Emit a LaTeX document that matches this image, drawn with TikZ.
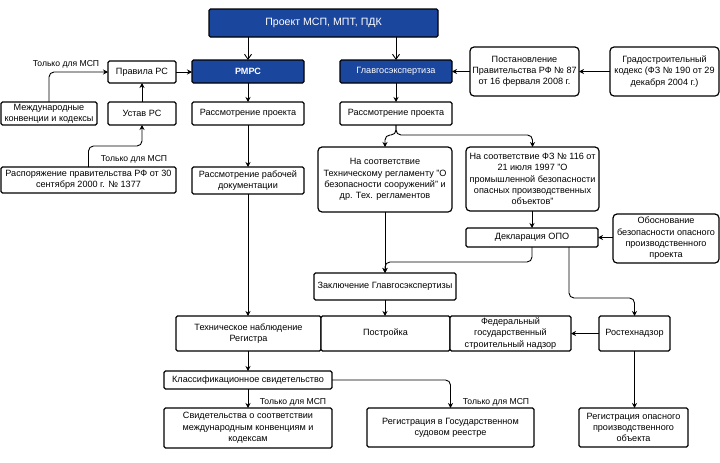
\documentclass[tikz,border=0pt]{standalone}
\usepackage{fontspec}
\setmainfont{Liberation Sans}
\usetikzlibrary{arrows.meta}
\definecolor{blueC}{RGB}{27,70,158}
\begin{document}
\begin{tikzpicture}[x=1pt,y=-1pt,
  bx/.style={draw=black, line width=1.2pt, fill=white, rounded corners=1.5pt,
    inner sep=0pt, outer sep=0pt, align=center,
    font=\fontsize{9.1}{11.3}\selectfont},
  rbx/.style={bx, rounded corners=4pt},
  bluebx/.style={bx, fill=blueC, text=white},
  arr/.style={draw=black, line width=0.9pt, rounded corners=5pt, -{Stealth[length=5pt,width=5pt]}},
  oarr/.style={draw=black, line width=0.9pt, -{Straight Barb[length=5pt,width=7pt]}},
  lbl/.style={font=\fontsize{8.6}{10}\selectfont, inner sep=0pt}
]
\useasboundingbox (0,0) rectangle (720,463);
\fill[white] (0,0) rectangle (720,463);

% blue boxes
\node[bluebx, minimum width=229, minimum height=28, font=\fontsize{10.6}{12}\selectfont] (top) at (323.5,23) {Проект МСП, МПТ, ПДК};
\node[bluebx, minimum width=112, minimum height=23] (rmrs) at (248,71.5) {\textbf{РМРС}};
\node[bluebx, minimum width=112, minimum height=23] (glav) at (396,71.5) {Главгосэкспертиза};

% left column
\node[bx, minimum width=68, minimum height=22] (pravila) at (142,72) {Правила РС};
\node[bx, minimum width=96, minimum height=23] (mezh) at (49,113.5) {Международные\\конвенции и кодексы};
\node[bx, minimum width=68, minimum height=23] (ustav) at (142,113.5) {Устав РС};
\node[bx, minimum width=175, minimum height=26] (raspor) at (88.5,180) {Распоряжение правительства РФ от 30\\сентября 2000 г. № 1377};
\node[bx, minimum width=112, minimum height=23] (rasL) at (248,113.5) {Рассмотрение проекта};
\node[bx, minimum width=112, minimum height=27] (rabdoc) at (248,180.5) {Рассмотрение рабочей\\документации};

% right column
\node[bx, minimum width=112, minimum height=23] (rasR) at (396,113.5) {Рассмотрение проекта};
\node[rbx, minimum width=109, minimum height=49] (post) at (524.5,71.5) {Постановление\\Правительства РФ № 87\\от 16 ферваля 2008 г.};
\node[rbx, minimum width=109, minimum height=49] (grad) at (664.5,71.5) {Градостроительный\\кодекс (ФЗ № 190 от 29\\декабря 2004 г.)};
\node[rbx, minimum width=134, minimum height=65] (teh) at (385,179.5) {На соответствие\\Техническому регламенту "О\\безопасности сооружений" и\\др. Тех. регламентов};
\node[rbx, minimum width=133, minimum height=64] (fz) at (532.5,179) {На соответствие ФЗ № 116 от\\21 июля 1997 "О\\промышленной безопасности\\опасных производственных\\объектов"};
\node[bx, minimum width=132, minimum height=19] (dekl) at (532,237.5) {Декларация ОПО};
\node[rbx, minimum width=106, minimum height=49] (obosn) at (666,238.5) {Обоснование\\безопасности опасного\\производственного\\проекта};
\node[bx, minimum width=142, minimum height=27] (zakl) at (385,286.5) {Заключение Главгосэкспертизы};

% bottom rows
\node[bx, minimum width=145, minimum height=35] (tehnab) at (248.5,333.5) {Техническое наблюдение\\Регистра};
\node[bx, minimum width=129, minimum height=35] (postr) at (385.5,333.5) {Постройка};
\node[bx, minimum width=121, minimum height=35] (fgsn) at (510.5,333.5) {Федеральный\\государственный\\строительный надзор};
\node[bx, minimum width=71, minimum height=35] (rostekh) at (634.5,333.5) {Ростехнадзор};
\node[bx, minimum width=168, minimum height=18] (klass) at (248,380) {Классификационное свидетельство};
\node[bx, minimum width=168, minimum height=40] (svid) at (248,428) {Свидетельства о соответствии\\международным конвенциям и\\кодексам};
\node[bx, minimum width=167, minimum height=39] (regsud) at (450.5,427.5) {Регистрация в Государственном\\судовом реестре};
\node[bx, minimum width=109, minimum height=39] (regopo) at (633.5,427.5) {Регистрация опасного\\производственного\\объекта};

% waypoints
\coordinate (c1) at (142,146);
\coordinate (c2) at (396,135);
\coordinate (m1) at (385,262);
\coordinate (m2) at (600,298);

% connectors
\draw[oarr] (rmrs.north |- top.south) -- (rmrs.north);
\draw[oarr] (glav.north |- top.south) -- (glav.north);
\draw[arr] (pravila.east) -- (rmrs.west |- pravila.east);
\draw[arr] (mezh.north) |- (pravila.west);
\node[lbl] (l1) at (66,64) {Только для МСП};
\draw[arr] (ustav.north) -- (pravila.south);
\draw[arr] (raspor.north) |- (c1) -- (ustav.south);
\node[lbl] (l2) at (134,159) {Только для МСП};
\draw[arr] (rmrs.south) -- (rasL.north);
\draw[arr] (rasL.south) -- (rabdoc.north);
\draw[arr] (rabdoc.south) -- (tehnab.north -| rabdoc.south);
\draw[arr] (tehnab.south -| klass.north) -- (klass.north);
\draw[arr] (klass.south) -- (svid.north);
\node[lbl] (l3) at (293,402) {Только для МСП};
\draw[arr] (klass.east) -| (regsud.north);
\node[lbl] (l4) at (496,402) {Только для МСП};

\draw[arr] (post.west) -- (glav.east |- post.west);
\draw[arr] (grad.west) -- (post.east |- grad.west);
\draw[arr] (glav.south) -- (rasR.north);
\draw[arr] (rasR.south) |- (c2) -| (teh.north);
\draw[arr] (rasR.south) |- (c2) -| (fz.north);
\draw[arr] (fz.south -| dekl.north) -- (dekl.north);
\draw[arr] (obosn.west |- dekl.east) -- (dekl.east);
\draw[arr] (teh.south) -- (zakl.north);
\draw[arr] (dekl.south) |- (m1) -- (zakl.north);
\draw[arr] ([xshift=37pt]dekl.south) |- (m2) -| (rostekh.north);
\draw[arr] (zakl.south) -- (postr.north -| zakl.south);
\draw[arr] (rostekh.west) -- (fgsn.east);
\draw[arr] (rostekh.south) -- (regopo.north -| rostekh.south);
\end{tikzpicture}
\end{document}
